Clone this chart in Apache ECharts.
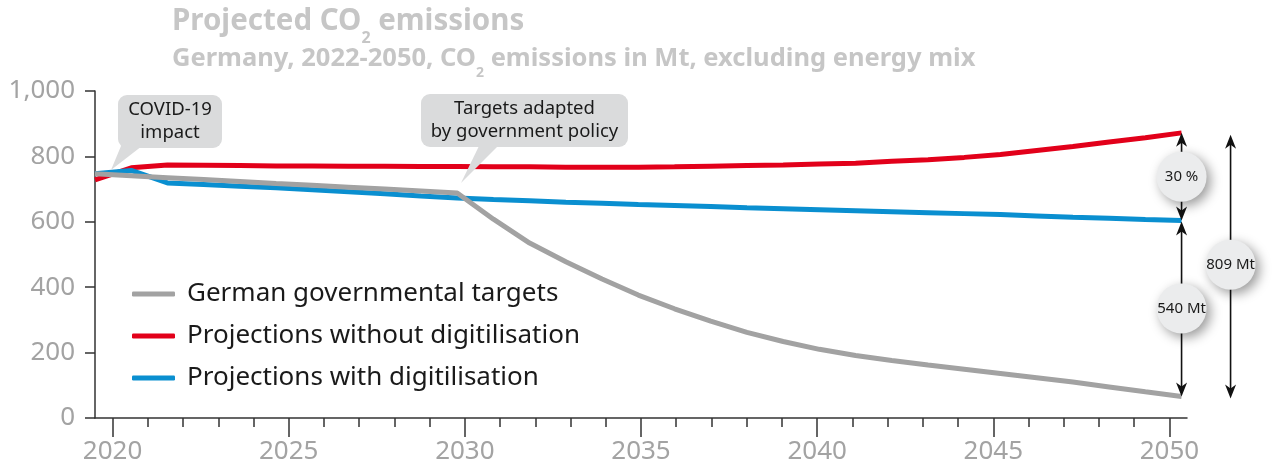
<!DOCTYPE html>
<html>
<head>
<meta charset="utf-8">
<title>Projected CO2 emissions</title>
<script src="https://cdn.jsdelivr.net/npm/echarts@6/dist/echarts.min.js"></script>
<style>
  html, body { margin: 0; padding: 0; background: #fff; }
  #chart { width: 1275px; height: 468px; }
</style>
</head>
<body>
<div id="chart"></div>
<script>
// data (Mt CO2)
const years = [2020, 2021, 2022, 2023, 2024, 2025, 2026, 2027, 2028, 2029, 2030,
  2031, 2032, 2033, 2034, 2035, 2036, 2037, 2038, 2039, 2040,
  2041, 2042, 2043, 2044, 2045, 2046, 2047, 2048, 2049, 2050];
const govTargets = [747, 741, 735, 729, 723, 717, 712, 706, 700, 694, 688,
  608, 535, 478, 425, 376, 334, 296, 262, 234, 210,
  191, 176, 162, 149, 136, 123, 110, 95, 80, 66];
const withoutDigital = [728, 765, 774, 773, 772, 771, 771, 770, 770, 769, 769,
  768, 768, 767, 767, 767, 768, 770, 772, 774, 777,
  779, 785, 790, 797, 806, 818, 830, 844, 857, 872];
const withDigital = [747, 757, 719, 714, 709, 704, 698, 692, 686, 679, 673,
  668, 664, 660, 657, 653, 650, 647, 643, 640, 637,
  634, 631, 628, 625, 622, 618, 614, 611, 607, 604];
const seriesNames = ['German governmental targets', 'Projections without digitilisation', 'Projections with digitilisation'];
const majorTicks = [2020, 2025, 2030, 2035, 2040, 2045, 2050];
const gapLabels = ['30 %', '540 Mt', '809 Mt'];

const GRAY = '#a2a2a2', RED = '#e2001a', BLUE = '#0a8fd0';
const TITLE_GRAY = '#c6c6c6', LABEL_GRAY = '#a3a3a3';

const chart = echarts.init(document.getElementById('chart'));

function pairs(vals) {
  return years.map((y, i) => [y, vals[i]]);
}

const option = {
  animation: false,
  textStyle: { fontFamily: 'Noto Sans' },
  title: [
    {
      left: 172, top: 7, padding: 0,
      text: '{t|Projected CO}{s|2}{t| emissions}',
      textStyle: {
        rich: {
          t: { fontSize: 29.5, fontWeight: 'bold', color: TITLE_GRAY, lineHeight: 34, verticalAlign: 'top' },
          s: { fontSize: 16, fontWeight: 'bold', color: TITLE_GRAY, lineHeight: 39, verticalAlign: 'bottom' }
        }
      }
    },
    {
      left: 172, top: 46, padding: 0,
      text: '{t|Germany, 2022-2050, CO}{s|2}{t| emissions in Mt, excluding energy mix}',
      textStyle: {
        rich: {
          t: { fontSize: 25.5, fontWeight: 'bold', color: TITLE_GRAY, lineHeight: 28, verticalAlign: 'top' },
          s: { fontSize: 14, fontWeight: 'bold', color: TITLE_GRAY, lineHeight: 34, verticalAlign: 'bottom' }
        }
      }
    }
  ],
  legend: {
    orient: 'vertical',
    left: 127, top: 276,
    itemWidth: 43, itemHeight: 5,
    itemGap: 16,
    icon: 'roundRect',
    data: seriesNames,
    textStyle: { fontSize: 26, color: '#1a1a1a', lineHeight: 26, padding: [0, 0, 0, 7] }
  },
  grid: { left: 95, right: 88, top: 91, bottom: 50, containLabel: false },
  xAxis: [
    {
      // visible axis with the year labels and long ticks
      type: 'value', position: 'bottom',
      min: 2019.5, max: 2050.5,
      axisLine: { lineStyle: { color: '#333', width: 1.5 } },
      axisTick: { customValues: majorTicks, length: 19, lineStyle: { color: '#333', width: 1.5 } },
      axisLabel: { customValues: majorTicks, fontSize: 26, color: LABEL_GRAY, margin: 21, formatter: v => String(v) },
      splitLine: { show: false }
    },
    {
      // axis the lines are drawn on
      type: 'value', position: 'bottom', show: false,
      min: 2020, max: 2050.15,
      splitLine: { show: false }
    },
    {
      // short yearly ticks
      type: 'value', position: 'bottom',
      min: 2019.5, max: 2050.5,
      axisLine: { show: false },
      axisTick: { customValues: years, length: 9, lineStyle: { color: '#333', width: 1.5 } },
      axisLabel: { show: false },
      splitLine: { show: false }
    }
  ],
  yAxis: {
    type: 'value', min: 0, max: 1000, interval: 200,
    axisLine: { show: true, lineStyle: { color: '#333', width: 1.5 } },
    axisTick: { show: true, length: 10, lineStyle: { color: '#333', width: 1.5 } },
    axisLabel: {
      fontSize: 26, color: LABEL_GRAY, margin: 20,
      formatter: v => v.toLocaleString('en-US')
    },
    splitLine: { show: false }
  },
  series: [
    {
      name: seriesNames[1], type: 'line', xAxisIndex: 1,
      data: pairs(withoutDigital), showSymbol: false, color: RED,
      lineStyle: { color: RED, width: 5 }, z: 2
    },
    {
      name: seriesNames[2], type: 'line', xAxisIndex: 1,
      data: pairs(withDigital), showSymbol: false, color: BLUE,
      lineStyle: { color: BLUE, width: 5 }, z: 3
    },
    {
      name: seriesNames[0], type: 'line', xAxisIndex: 1,
      data: pairs(govTargets), showSymbol: false, color: GRAY,
      lineStyle: { color: GRAY, width: 5 }, z: 4
    }
  ]
};

chart.setOption(option);

// annotations
const last = years.length - 1;
const at = v => chart.convertToPixel({ xAxisIndex: 1, yAxisIndex: 0 }, [years[last], v]);
const redEnd = at(withoutDigital[last]);
const blueEnd = at(withDigital[last]);
const grayEnd = at(govTargets[last]);

function arrow(x, yTop, yBot) {
  return [
    { type: 'line', z: 10, shape: { x1: x, y1: yTop + 8, x2: x, y2: yBot - 8 }, style: { stroke: '#111', lineWidth: 1.6 } },
    { type: 'polygon', z: 10, shape: { points: [[x, yTop], [x - 5.5, yTop + 14], [x, yTop + 10], [x + 5.5, yTop + 14]] }, style: { fill: '#111' } },
    { type: 'polygon', z: 10, shape: { points: [[x, yBot], [x - 5.5, yBot - 14], [x, yBot - 10], [x + 5.5, yBot - 14]] }, style: { fill: '#111' } }
  ];
}

function badge(x, y, text) {
  return [
    { type: 'circle', z: 11, shape: { cx: x, cy: y, r: 25 },
      style: { fill: '#ebeced', shadowBlur: 12, shadowOffsetX: 4, shadowOffsetY: 4, shadowColor: 'rgba(0,0,0,0.4)' } },
    { type: 'text', z: 12, x: x, y: y,
      style: { text: text, fontSize: 15, fontFamily: 'Noto Sans', fill: '#1a1a1a', align: 'center', verticalAlign: 'middle' } }
  ];
}

function callout(x, y, w, h, lines, base1, base2, tip) {
  return [
    { type: 'polygon', z: 9, shape: { points: [base1, base2, tip] }, style: { fill: '#dadbdc' } },
    { type: 'rect', z: 9, shape: { x: x, y: y, width: w, height: h, r: 9 }, style: { fill: '#dadbdc' } },
    { type: 'text', z: 10, x: x + w / 2, y: y + h / 2,
      style: { text: lines, fontSize: 18.5, lineHeight: 23, fontFamily: 'Noto Sans', fill: '#1a1a1a', align: 'center', verticalAlign: 'middle' } }
  ];
}

const x1 = redEnd[0];
const x2 = redEnd[0] + 49;
const graphics = [].concat(
  callout(118, 95, 104, 53, 'COVID-19\nimpact', [121, 146], [142, 146], [111, 170]),
  callout(421, 94, 207, 53, 'Targets adapted\nby government policy', [479, 146], [498, 146], [461, 183]),
  arrow(x1, redEnd[1], blueEnd[1]),
  arrow(x1, blueEnd[1] + 1, grayEnd[1]),
  arrow(x2, redEnd[1] + 2, grayEnd[1] + 2),
  badge(x1, (redEnd[1] + blueEnd[1]) / 2, gapLabels[0]),
  badge(x1, (blueEnd[1] + grayEnd[1]) / 2, gapLabels[1]),
  badge(x2, (redEnd[1] + grayEnd[1]) / 2, gapLabels[2])
);
chart.setOption({ graphic: graphics });
</script>
</body>
</html>
